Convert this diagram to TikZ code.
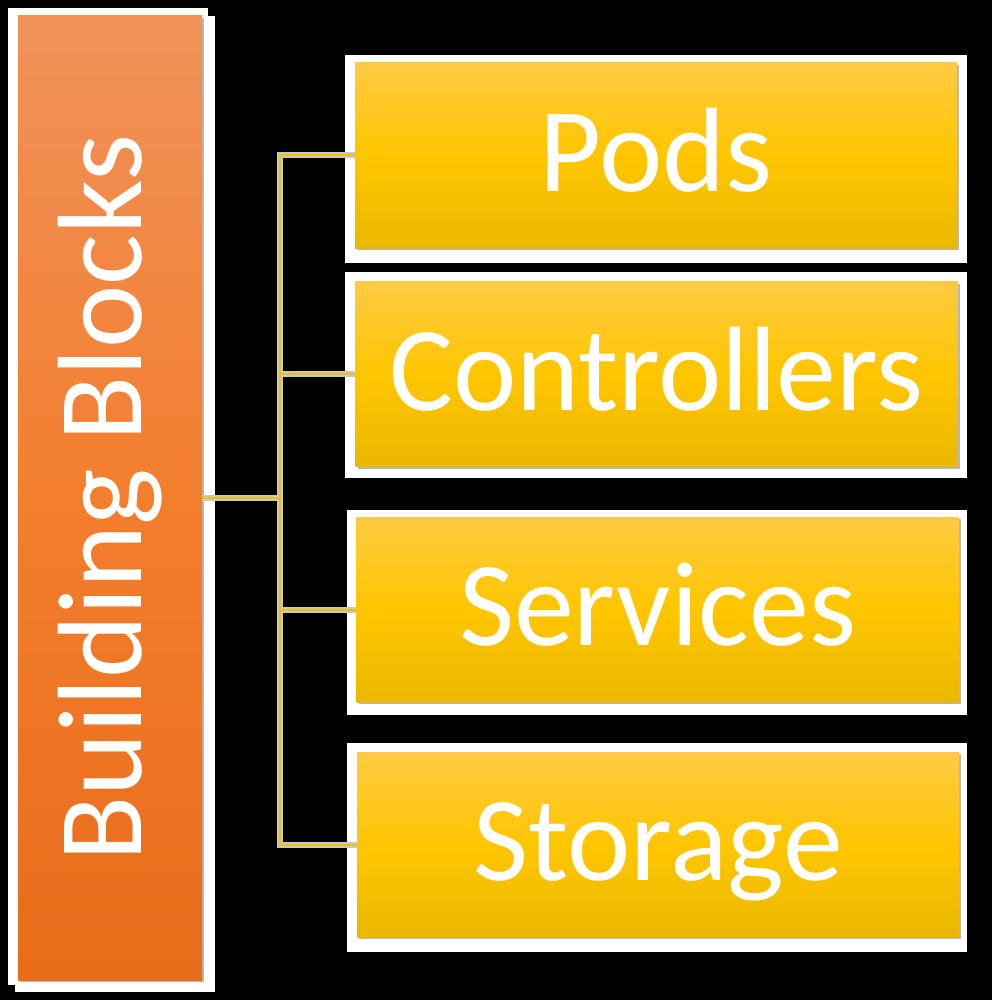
\documentclass[tikz,border=0pt]{standalone}
\usepackage{fontspec}
\setmainfont{Carlito}
\usetikzlibrary{shadows}
\definecolor{otop}{RGB}{240,146,90}
\definecolor{omid}{RGB}{243,126,46}
\definecolor{obot}{RGB}{232,108,26}
\definecolor{ytop}{RGB}{255,202,66}
\definecolor{ymid}{RGB}{255,198,0}
\definecolor{ybot}{RGB}{234,184,0}
\definecolor{lineY}{RGB}{245,192,0}
\definecolor{lineG}{RGB}{200,200,200}
\begin{document}
\begin{tikzpicture}[x=1pt,y=-1pt,
  panel/.style={fill=white,draw=none},
  bigfont/.style={font=\fontsize{120}{144}\selectfont},
  ybox/.style={rectangle,inner sep=0pt,minimum width=602pt,minimum height=185pt,
    top color=ytop,bottom color=ybot,middle color=ymid,text=white,bigfont,
    text height=72pt,text depth=0pt,
    drop shadow={shadow xshift=2pt,shadow yshift=-2pt,fill=black!35,opacity=0.8}},
  obox/.style={rectangle,inner sep=0pt,minimum width=184pt,minimum height=964pt,
    top color=otop,bottom color=obot,middle color=omid,text=white,bigfont,
    drop shadow={shadow xshift=2pt,shadow yshift=-2pt,fill=black!35,opacity=0.8}},
  connG/.style={draw=lineG,line width=6pt},
  connY/.style={draw=lineY,line width=2pt}]
\fill[black] (0,0) rectangle (992,1000);
\useasboundingbox (0,0) rectangle (992,1000);
% white panels
\fill[panel] (8,8) rectangle (208,985);
\fill[panel] (15,16) rectangle (215,992);
\fill[panel] (345,55) rectangle (967,263);
\fill[panel] (345,272) rectangle (967,478);
\fill[panel] (347,510) rectangle (967,715);
\fill[panel] (347,743) rectangle (967,952);
% boxes
\node[obox] (L) at (110,498) {\rotatebox{90}{Building Blocks}};
\node[ybox] (P) at (656,155.5) {Pods};
\node[ybox] (C) at (656.5,374) {Controllers};
\node[ybox] (S) at (657.5,609.5) {Services};
\node[ybox] (T) at (658,844.5) {Storage};
% connectors
\coordinate (j) at (280,498);
\draw[connG] (L.east) -- (j);
\foreach \n in {P,C,S,T} \draw[connG] (j) |- (\n.west);
\draw[connY] (L.east) -- (j);
\foreach \n in {P,C,S,T} \draw[connY] (j) |- (\n.west);
\end{tikzpicture}
\end{document}
